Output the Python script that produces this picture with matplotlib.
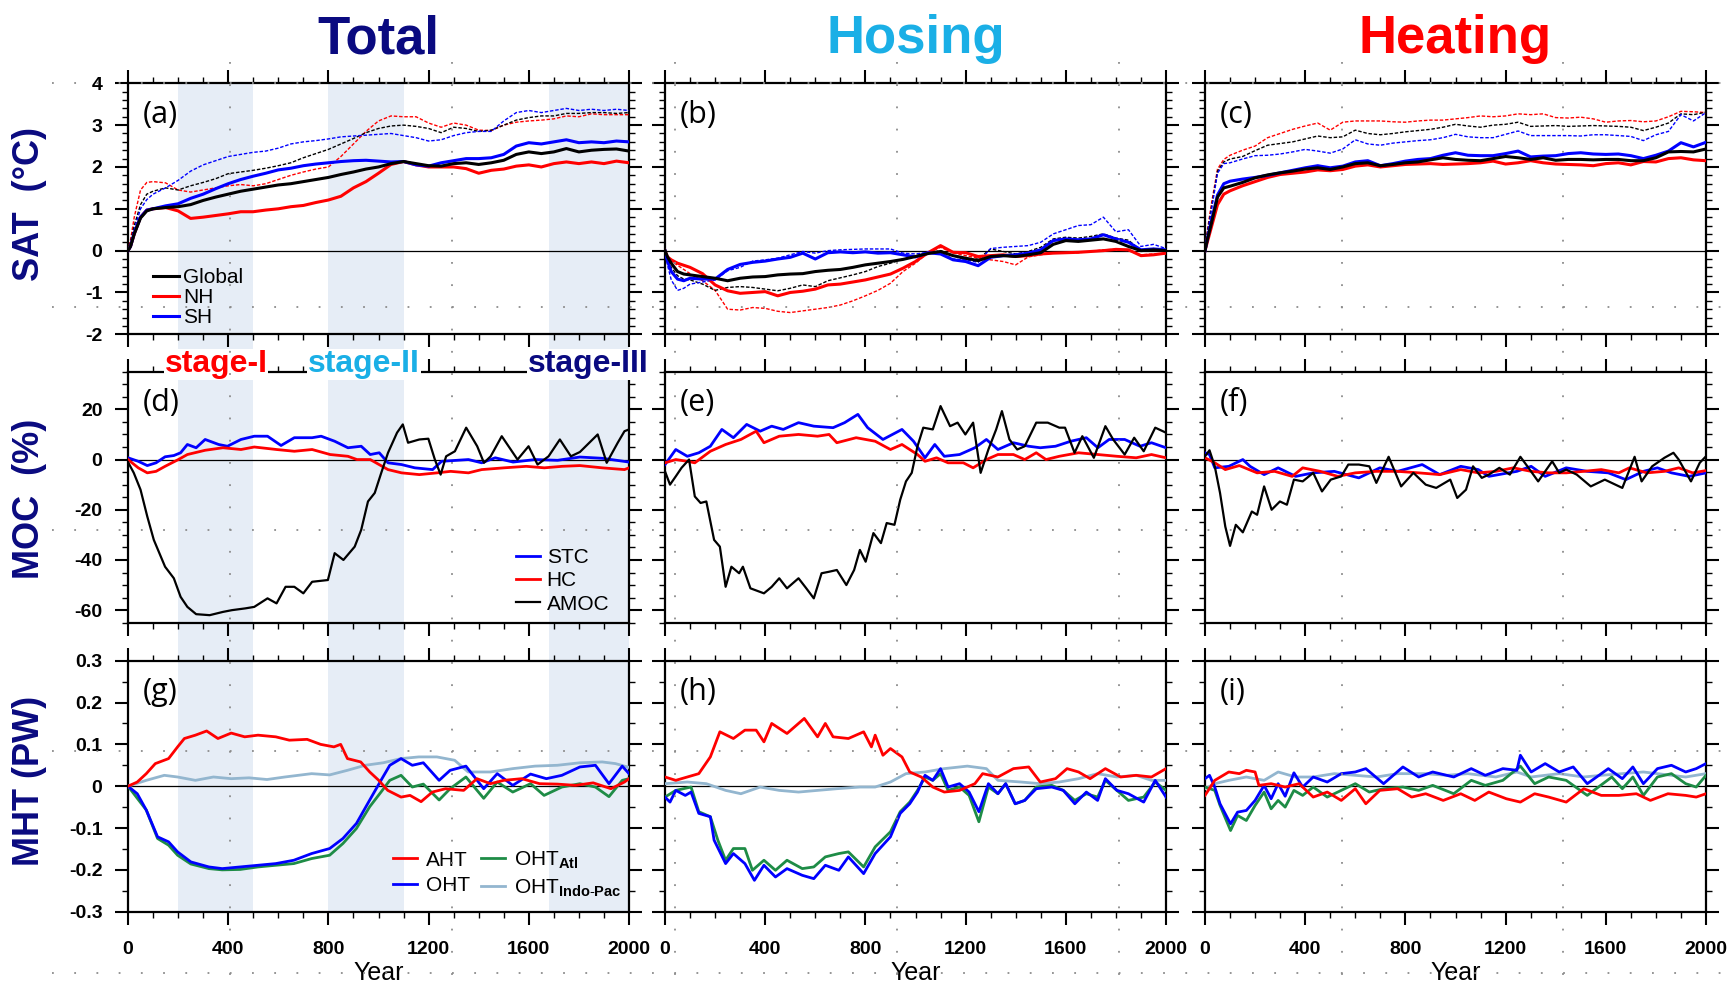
import numpy as np
import matplotlib
matplotlib.use('Agg')
from matplotlib import pyplot as plt
from matplotlib.lines import Line2D
from matplotlib.ticker import MultipleLocator, FuncFormatter

plt.rcParams['font.family'] = ['Liberation Sans', 'DejaVu Sans']
plt.rcParams['mathtext.fontset'] = 'custom'
plt.rcParams['mathtext.rm'] = 'Liberation Sans'
plt.rcParams['mathtext.bf'] = 'Liberation Sans:bold'
plt.rcParams['lines.scale_dashes'] = False

# ---------------- SAT (row 1), common year grid ----------------
YR = [0, 10, 25, 50, 75, 100] + list(range(150, 2001, 50))

a_glb = [0, 0.1, 0.4, 0.78, 0.95, 1.0, 1.03, 1.05, 1.1, 1.2, 1.28, 1.35, 1.42, 1.47, 1.52, 1.57,
         1.6, 1.65, 1.7, 1.75, 1.82, 1.88, 1.95, 2.0, 2.08, 2.13, 2.08, 2.03, 2.02, 2.08, 2.1, 2.06,
         2.1, 2.16, 2.3, 2.36, 2.32, 2.36, 2.44, 2.36, 2.4, 2.42, 2.43, 2.38]
a_nh = [0, 0.1, 0.4, 0.8, 0.97, 1.0, 1.03, 0.95, 0.77, 0.8, 0.84, 0.88, 0.93, 0.93, 0.97, 1.0,
        1.05, 1.08, 1.15, 1.21, 1.3, 1.5, 1.65, 1.85, 2.06, 2.13, 2.05, 2.0, 2.0, 2.0, 1.96, 1.85,
        1.92, 1.95, 2.02, 2.05, 2.0, 2.08, 2.12, 2.08, 2.12, 2.08, 2.14, 2.1]
a_sh = [0, 0.1, 0.42, 0.8, 0.97, 1.0, 1.07, 1.12, 1.25, 1.35, 1.48, 1.6, 1.7, 1.78, 1.85, 1.93,
        1.97, 2.03, 2.07, 2.1, 2.13, 2.15, 2.16, 2.14, 2.12, 2.13, 2.05, 2.02, 2.1, 2.15, 2.2, 2.2,
        2.22, 2.3, 2.5, 2.58, 2.55, 2.6, 2.65, 2.58, 2.6, 2.58, 2.62, 2.6]
a_glb_d = [0, 0.2, 0.6, 1.1, 1.35, 1.42, 1.5, 1.45, 1.55, 1.63, 1.72, 1.84, 1.88, 1.92, 1.97, 2.03,
           2.1, 2.22, 2.32, 2.42, 2.55, 2.68, 2.82, 2.92, 2.98, 3.0, 2.97, 2.92, 2.82, 2.95, 2.92, 2.85,
           2.88, 3.0, 3.12, 3.18, 3.22, 3.22, 3.28, 3.28, 3.3, 3.3, 3.28, 3.3]
a_nh_d = [0, 0.25, 0.8, 1.45, 1.63, 1.65, 1.62, 1.45, 1.4, 1.45, 1.5, 1.55, 1.58, 1.55, 1.6, 1.7,
          1.8, 1.88, 1.95, 2.0, 2.25, 2.55, 2.85, 3.1, 3.22, 3.2, 3.2, 3.05, 2.95, 3.05, 3.0, 2.88,
          2.87, 3.0, 3.07, 3.1, 3.12, 3.15, 3.22, 3.2, 3.27, 3.25, 3.25, 3.25]
a_sh_d = [0, 0.15, 0.5, 1.0, 1.22, 1.35, 1.5, 1.68, 1.9, 2.05, 2.15, 2.25, 2.3, 2.35, 2.38, 2.45,
          2.55, 2.6, 2.63, 2.67, 2.72, 2.74, 2.76, 2.78, 2.8, 2.75, 2.7, 2.62, 2.65, 2.75, 2.82, 2.85,
          2.85, 3.1, 3.3, 3.35, 3.3, 3.35, 3.4, 3.35, 3.38, 3.35, 3.38, 3.35]

b_glb = [0, -0.15, -0.3, -0.5, -0.56, -0.58, -0.62, -0.66, -0.72, -0.66, -0.63, -0.62, -0.58, -0.56,
         -0.55, -0.5, -0.47, -0.45, -0.4, -0.34, -0.3, -0.26, -0.21, -0.14, -0.07, -0.02, -0.12, -0.18,
         -0.24, -0.14, -0.12, -0.14, -0.1, -0.05, 0.15, 0.24, 0.22, 0.25, 0.28, 0.22, 0.1, 0.0, 0.02, 0.0]
b_nh = [0, -0.15, -0.22, -0.3, -0.35, -0.4, -0.55, -0.82, -0.96, -1.02, -1.0, -0.98, -1.08, -1.0,
        -0.97, -0.92, -0.82, -0.8, -0.75, -0.7, -0.63, -0.56, -0.42, -0.26, -0.05, 0.12, -0.04, -0.05,
        -0.14, -0.12, -0.1, -0.14, -0.12, -0.08, -0.06, -0.05, -0.04, -0.02, 0.0, 0.03, 0.02, -0.12,
        -0.1, -0.06]
b_sh = [0, -0.25, -0.5, -0.68, -0.72, -0.66, -0.68, -0.68, -0.45, -0.33, -0.28, -0.25, -0.2, -0.16,
        -0.06, -0.2, -0.05, -0.03, -0.05, -0.03, -0.06, -0.05, -0.1, -0.15, -0.05, -0.08, -0.22, -0.26,
        -0.36, -0.16, -0.12, -0.1, -0.06, 0.02, 0.24, 0.28, 0.26, 0.28, 0.38, 0.28, 0.2, 0.02, 0.04, 0.02]
b_glb_d = [0, -0.2, -0.4, -0.6, -0.68, -0.7, -0.8, -0.95, -0.88, -0.86, -0.88, -0.92, -0.96, -0.9,
           -0.82, -0.86, -0.72, -0.65, -0.58, -0.5, -0.38, -0.3, -0.2, -0.15, -0.06, 0.0, -0.12, -0.22,
           -0.2, 0.04, -0.02, -0.08, -0.02, 0.08, 0.28, 0.32, 0.3, 0.34, 0.4, 0.3, 0.25, 0.0, 0.05, 0.02]
b_nh_d = [0, -0.15, -0.25, -0.35, -0.45, -0.55, -0.72, -0.95, -1.4, -1.42, -1.36, -1.38, -1.45, -1.48,
          -1.44, -1.4, -1.36, -1.3, -1.2, -1.08, -0.95, -0.78, -0.5, -0.3, -0.05, 0.08, -0.05, -0.12,
          -0.18, -0.22, -0.26, -0.34, -0.15, -0.1, -0.06, -0.05, -0.05, -0.02, 0.02, 0.03, 0.0, -0.1,
          -0.08, -0.08]
b_sh_d = [0, -0.35, -0.7, -0.95, -0.9, -0.8, -0.75, -0.7, -0.48, -0.4, -0.25, -0.22, -0.18, -0.1,
          -0.02, -0.06, 0.0, 0.02, 0.03, 0.04, 0.04, 0.04, -0.06, -0.08, -0.04, -0.05, -0.2, -0.22,
          -0.28, 0.05, 0.08, 0.1, 0.12, 0.2, 0.4, 0.5, 0.6, 0.62, 0.8, 0.45, 0.5, 0.1, 0.15, 0.05]

c_glb = [0, 0.28, 0.64, 1.28, 1.5, 1.54, 1.63, 1.74, 1.81, 1.86, 1.9, 1.95, 1.98, 1.94, 2.0, 2.08,
         2.1, 2.03, 2.06, 2.1, 2.12, 2.17, 2.22, 2.18, 2.16, 2.15, 2.2, 2.25, 2.22, 2.18, 2.22, 2.16,
         2.18, 2.18, 2.17, 2.18, 2.18, 2.15, 2.15, 2.22, 2.36, 2.37, 2.36, 2.43]
c_nh = [0, 0.22, 0.55, 1.1, 1.35, 1.43, 1.55, 1.65, 1.75, 1.82, 1.85, 1.88, 1.93, 1.91, 1.94, 2.02,
        2.05, 2.0, 2.03, 2.06, 2.07, 2.08, 2.06, 2.07, 2.08, 2.1, 2.14, 2.07, 2.1, 2.15, 2.1, 2.07,
        2.06, 2.05, 2.03, 2.08, 2.1, 2.05, 2.13, 2.12, 2.2, 2.22, 2.17, 2.15]
c_sh = [0, 0.3, 0.7, 1.33, 1.6, 1.66, 1.71, 1.75, 1.8, 1.86, 1.92, 1.98, 2.03, 1.98, 2.02, 2.12,
        2.15, 2.03, 2.08, 2.14, 2.18, 2.2, 2.28, 2.34, 2.28, 2.27, 2.27, 2.32, 2.38, 2.24, 2.26, 2.27,
        2.32, 2.34, 2.31, 2.3, 2.31, 2.27, 2.2, 2.28, 2.38, 2.58, 2.48, 2.59]
c_glb_d = [0, 0.45, 1.0, 1.9, 2.12, 2.19, 2.25, 2.39, 2.52, 2.56, 2.6, 2.67, 2.74, 2.7, 2.72, 2.88,
           2.8, 2.77, 2.8, 2.84, 2.87, 2.9, 2.95, 3.02, 2.98, 2.95, 3.0, 3.02, 3.07, 2.97, 2.98, 2.99,
           2.97, 2.98, 2.99, 2.98, 2.97, 2.95, 2.87, 2.95, 3.05, 3.27, 3.25, 3.31]
c_nh_d = [0, 0.5, 1.1, 1.95, 2.18, 2.28, 2.4, 2.5, 2.7, 2.8, 2.9, 2.98, 3.05, 2.88, 3.07, 3.1,
          3.1, 3.1, 3.08, 3.07, 3.1, 3.12, 3.12, 3.15, 3.18, 3.22, 3.2, 3.22, 3.27, 3.25, 3.27, 3.18,
          3.17, 3.19, 3.15, 3.07, 3.1, 3.11, 3.08, 3.1, 3.2, 3.33, 3.32, 3.3]
c_sh_d = [0, 0.4, 0.95, 1.85, 2.08, 2.1, 2.19, 2.27, 2.28, 2.31, 2.36, 2.42, 2.38, 2.33, 2.43, 2.65,
          2.55, 2.52, 2.57, 2.6, 2.63, 2.65, 2.7, 2.78, 2.72, 2.7, 2.7, 2.78, 2.86, 2.75, 2.75, 2.75,
          2.75, 2.74, 2.77, 2.77, 2.75, 2.73, 2.63, 2.77, 2.85, 3.25, 3.1, 3.3]

# ---------------- MOC (row 2), % ----------------
d_amoc_yr = [0, 23, 50, 77, 103, 148, 183, 210, 237, 272, 326, 379, 415, 468, 504, 557, 593, 629, 664,
             700, 735, 798, 825, 860, 905, 931, 958, 985, 1011, 1038, 1074, 1097, 1118, 1163, 1199,
             1225, 1248, 1270, 1305, 1350, 1394, 1421, 1448, 1492, 1555, 1599, 1635, 1679, 1724,
             1768, 1804, 1875, 1911, 1955, 1982, 2000]
d_amoc = [-1, -5.3, -12, -22.7, -32, -42.7, -47.3, -54.7, -58.7, -61.6, -62, -60.7, -60, -59.3,
          -58.7, -55.3, -57.3, -50.7, -50.7, -53.3, -48.7, -48, -37.3, -40, -34.7, -28, -16.7,
          -13.3, -5.3, 2.7, 10.7, 14, 6.7, 8, 8.3, 0, -6, 1.3, 3.3, 12.7, 5.3, -1.3, 1.3, 9.3, 0,
          5.3, -2, 1.3, 8, 1.3, 3, 10, -1.3, 6.7, 11.3, 12]
d_stc_yr = [0, 41, 77, 112, 148, 183, 210, 237, 272, 308, 362, 397, 451, 504, 557, 611, 664, 735,
            771, 825, 878, 931, 967, 1003, 1038, 1092, 1145, 1216, 1252, 1359, 1412, 1466, 1537,
            1626, 1715, 1804, 1893, 2000]
d_stc = [0.7, -0.7, -2.4, -1.3, 1.1, 1.6, 2.7, 6, 4.7, 8, 6, 5.3, 8, 9.3, 9.3, 5.6, 8.7, 8.7, 9.3,
         7.3, 4.7, 5.3, 2, 2.7, -1.3, -2, -3.3, -4, -0.7, 0, -1.3, 0.7, -1, 0, -0.3, 1, 0.5, -1]
d_hc_yr = [0, 41, 77, 112, 148, 201, 237, 308, 379, 451, 504, 593, 664, 735, 807, 878, 914, 967,
           1038, 1092, 1163, 1234, 1288, 1359, 1412, 1501, 1590, 1662, 1733, 1804, 1893, 1982, 2000]
d_hc = [0, -3.3, -5.3, -4.7, -2.7, 0, 2, 3.7, 4.7, 4, 5, 4, 3.3, 4, 2, 1.3, 0, 0, -4, -5.3, -6,
        -5.3, -4.7, -5.3, -4, -3.3, -2.7, -3.3, -2.7, -2.4, -3.3, -4, -3.3]

e_amoc_yr = [0, 20, 43, 66, 96, 119, 142, 165, 196, 219, 242, 265, 296, 311, 341, 395, 426, 456,
             487, 533, 564, 594, 625, 655, 686, 724, 755, 778, 801, 832, 862, 885, 916, 939, 962,
             985, 1008, 1031, 1069, 1100, 1138, 1168, 1199, 1230, 1260, 1291, 1322, 1345, 1375,
             1406, 1436, 1482, 1528, 1574, 1597, 1635, 1666, 1712, 1758, 1789, 1835, 1873, 1911,
             1957, 2000]
e_amoc = [-4.7, -10, -6.7, -3.3, 0, -14.7, -17.3, -16.7, -32, -34.7, -50.7, -42.7, -45.3, -42.7,
          -51.3, -53.3, -50.7, -47.3, -51.3, -47.3, -51.3, -55.3, -45.3, -44.7, -44, -50, -44, -36,
          -40.7, -29.3, -33.3, -25.3, -26, -16, -8.7, -5.3, 5.3, 12.7, 12, 21.3, 13.3, 14.7, 10,
          14.7, -5.3, 4, 12, 19.3, 8, 4, 5.3, 14.7, 14.7, 12.7, 12.7, 2.7, 9.3, 0.7, 13.3, 8, 2,
          8.7, 3.3, 12.7, 10.7]
e_stc_yr = [0, 43, 89, 135, 181, 227, 273, 326, 380, 426, 472, 533, 594, 671, 717, 770, 809, 870,
            946, 992, 1038, 1077, 1115, 1176, 1237, 1283, 1329, 1391, 1452, 1498, 1559, 1620, 1682,
            1728, 1773, 1835, 1896, 1942, 2000]
e_stc = [-2, 4, 1.3, 2.7, 5.3, 12, 8.7, 14, 11.3, 13.3, 12, 14.7, 13.3, 12.7, 14.7, 18, 12.7, 8,
         12, 7.3, 0.7, 6, 1.3, 2, 4.7, 8, 4, 6.7, 5.3, 4.7, 5.3, 7.3, 8.7, 4.7, 8, 8, 5.3, 6.7, 4.7]
e_hc_yr = [0, 43, 89, 119, 181, 242, 303, 364, 395, 456, 533, 609, 655, 686, 763, 839, 900, 946,
           1008, 1038, 1084, 1130, 1191, 1230, 1283, 1329, 1391, 1436, 1482, 1521, 1574, 1651,
           1728, 1804, 1881, 1942, 2000]
e_hc = [-1.3, 0, -0.7, -1.3, 3.3, 6, 8, 11.3, 6.7, 9.3, 10, 9.3, 10, 6.7, 8.7, 7.3, 4, 6, 2, -0.7,
        0.7, -1.3, -1.3, -3.3, 0, 2, 2, 0, 2.7, 0, 1.3, 2.7, 2, 1.3, 0.7, 2, 0.7]

f_amoc_yr = [0, 18, 39, 60, 81, 100, 123, 151, 187, 208, 236, 266, 299, 327, 355, 390, 432, 467,
             502, 544, 572, 614, 656, 684, 733, 783, 832, 881, 923, 979, 1007, 1042, 1070, 1105,
             1133, 1175, 1217, 1259, 1287, 1330, 1386, 1414, 1442, 1484, 1540, 1596, 1666, 1715,
             1743, 1785, 1834, 1870, 1891, 1940, 1975, 2000]
f_amoc = [1.3, 3.7, -2.7, -13.3, -26.7, -34.4, -26, -29, -20.7, -22, -10.7, -20, -16.7, -18, -8,
          -8.7, -5.3, -12.7, -8, -6.7, -2, -2, -2.7, -9.3, 1.1, -10.7, -5.3, -10, -11.3, -8, -15.3,
          -12, -2.7, -7.3, -6, -3.3, -6, 1.1, -2.7, -8.7, -0.7, -5.3, -4, -6, -10.7, -8, -11.3,
          1.1, -8.7, -2.7, 0.7, 2.7, 0, -8.7, -1.3, 1.3]
f_stc_yr = [0, 18, 39, 95, 151, 180, 236, 292, 362, 432, 516, 614, 698, 769, 867, 937, 1021, 1091,
            1133, 1245, 1302, 1358, 1442, 1526, 1610, 1680, 1750, 1806, 1862, 1933, 2000]
f_stc = [2.7, 2, -3.3, -2.7, 0, -2.7, -6, -3.3, -6.7, -5.3, -4.7, -7.3, -3.3, -4.7, -2, -6, -2.7,
         -4, -6.7, -4.7, -2.7, -6.7, -3.3, -4.7, -5.3, -8, -4.7, -3.3, -5.3, -6.7, -5.3]
f_hc_yr = [0, 39, 81, 137, 208, 278, 348, 390, 460, 530, 600, 684, 769, 853, 937, 1021, 1091, 1161,
           1231, 1302, 1372, 1442, 1512, 1582, 1652, 1694, 1764, 1834, 1891, 1947, 2000]
f_hc = [0.7, -1.3, -4, -2.4, -5.3, -4.7, -6.7, -3.3, -4.7, -6.7, -5.3, -4.7, -4.7, -5.3, -6, -4,
        -5.3, -4.7, -3.3, -4.7, -5.3, -5.3, -4.7, -4, -5.3, -3.3, -5.3, -4.7, -3.3, -5.3, -4.4]

# ---------------- MHT (row 3), PW ----------------
g_aht_yr = [0, 37, 73, 109, 162, 198, 225, 269, 314, 359, 412, 466, 519, 590, 644, 715, 769, 822,
            849, 876, 929, 965, 1001, 1037, 1090, 1126, 1170, 1215, 1268, 1340, 1393, 1447, 1500,
            1572, 1643, 1714, 1786, 1857, 1928, 1982, 2000]
g_aht = [0, 0.01, 0.03, 0.054, 0.066, 0.094, 0.114, 0.122, 0.132, 0.114, 0.127, 0.118, 0.122,
         0.118, 0.11, 0.112, 0.1, 0.094, 0.1, 0.066, 0.058, 0.034, 0.014, -0.01, -0.026, -0.022,
         -0.037, -0.014, -0.006, -0.01, 0.018, 0.006, 0.014, 0.018, 0.006, 0.005, 0.002, 0.008,
         -0.006, 0.01, 0.018]
g_oht_yr = [0, 37, 73, 118, 162, 198, 251, 323, 376, 448, 519, 590, 662, 733, 805, 858, 912, 965,
            1010, 1045, 1090, 1135, 1179, 1242, 1286, 1349, 1420, 1474, 1536, 1607, 1670, 1732,
            1804, 1866, 1920, 1973, 2000]
g_oht = [0, -0.018, -0.057, -0.121, -0.133, -0.157, -0.181, -0.193, -0.197, -0.193, -0.189, -0.185,
         -0.177, -0.161, -0.149, -0.125, -0.089, -0.033, 0.014, 0.05, 0.066, 0.05, 0.056, 0.014,
         0.038, 0.048, -0.006, 0.03, 0.002, 0.029, 0.018, 0.026, 0.046, 0.05, 0.006, 0.048, 0.03]
g_atl_yr = [0, 73, 118, 162, 198, 251, 323, 376, 448, 519, 590, 662, 733, 805, 858, 912, 965, 1010,
            1045, 1090, 1135, 1179, 1242, 1286, 1349, 1420, 1474, 1536, 1607, 1661, 1732, 1804,
            1866, 1920, 1973, 2000]
g_atl = [0, -0.057, -0.125, -0.141, -0.165, -0.186, -0.197, -0.2, -0.199, -0.193, -0.189, -0.185,
         -0.173, -0.165, -0.137, -0.101, -0.049, -0.014, 0.014, 0.026, -0.002, 0.005, -0.033, -0.006,
         0.022, -0.029, 0.01, -0.014, 0.006, -0.022, -0.002, 0.006, -0.002, -0.025, 0.014, 0.018]
g_ip_yr = [0, 73, 145, 198, 269, 341, 412, 483, 555, 626, 733, 805, 876, 947, 1019, 1090, 1161,
           1233, 1304, 1358, 1447, 1536, 1625, 1714, 1804, 1893, 1946, 2000]
g_ip = [0, 0.014, 0.026, 0.022, 0.014, 0.022, 0.018, 0.02, 0.016, 0.022, 0.03, 0.027, 0.038, 0.05,
        0.056, 0.066, 0.07, 0.07, 0.062, 0.034, 0.034, 0.042, 0.048, 0.05, 0.056, 0.058, 0.054, 0.045]

h_aht_yr = [0, 43, 89, 135, 181, 219, 273, 319, 364, 395, 426, 487, 556, 609, 640, 671, 732, 793,
            824, 839, 870, 900, 946, 977, 1023, 1069, 1115, 1176, 1237, 1268, 1329, 1391, 1452,
            1498, 1559, 1605, 1651, 1697, 1758, 1819, 1881, 1942, 2000]
h_aht = [0.022, 0.014, 0.022, 0.03, 0.07, 0.13, 0.114, 0.134, 0.134, 0.106, 0.15, 0.126, 0.162,
         0.118, 0.15, 0.118, 0.114, 0.13, 0.094, 0.122, 0.074, 0.09, 0.07, 0.034, 0.022, -0.002,
         -0.014, -0.01, 0.006, 0.03, 0.022, 0.042, 0.046, 0.01, 0.018, 0.042, 0.034, 0.018, 0.042,
         0.022, 0.026, 0.022, 0.042]
h_oht_yr = [0, 20, 43, 81, 104, 135, 181, 196, 242, 273, 319, 357, 395, 441, 487, 548, 594, 640,
            694, 732, 793, 839, 900, 939, 977, 1008, 1038, 1069, 1100, 1130, 1176, 1214, 1253,
            1291, 1329, 1360, 1398, 1436, 1482, 1544, 1590, 1636, 1682, 1727, 1758, 1804, 1850,
            1911, 1957, 2000]
h_oht = [-0.026, -0.038, -0.01, -0.022, -0.014, -0.065, -0.073, -0.129, -0.185, -0.161, -0.185,
         -0.225, -0.189, -0.217, -0.197, -0.213, -0.221, -0.189, -0.201, -0.169, -0.209, -0.161,
         -0.121, -0.065, -0.042, -0.014, 0.026, 0.014, 0.042, -0.002, 0.006, -0.014, -0.061, 0.006,
         -0.018, 0.006, -0.042, -0.034, -0.006, -0.002, -0.01, -0.042, -0.014, -0.034, 0.018,
         -0.01, -0.018, -0.038, 0.014, -0.026]
h_atl_yr = [0, 43, 104, 135, 181, 211, 242, 273, 319, 349, 395, 441, 487, 548, 594, 640, 694, 732,
            793, 839, 900, 939, 977, 1008, 1038, 1069, 1100, 1130, 1176, 1214, 1253, 1291, 1329,
            1360, 1398, 1436, 1482, 1544, 1590, 1636, 1682, 1727, 1758, 1804, 1850, 1911, 1957, 2000]
h_atl = [-0.026, -0.01, -0.002, -0.061, -0.073, -0.129, -0.177, -0.149, -0.149, -0.201, -0.177,
         -0.201, -0.177, -0.197, -0.193, -0.169, -0.161, -0.157, -0.193, -0.145, -0.109, -0.061,
         -0.038, -0.01, 0.022, 0.014, 0.03, -0.01, -0.002, -0.022, -0.085, -0.002, -0.018, 0.006,
         -0.042, -0.034, -0.002, 0.002, -0.01, -0.034, -0.018, -0.026, 0.014, -0.01, -0.034,
         -0.026, 0.01, -0.01]
h_ip_yr = [0, 89, 165, 242, 303, 380, 456, 533, 609, 686, 778, 839, 900, 962, 1038, 1115, 1207,
           1283, 1329, 1421, 1498, 1574, 1651, 1727, 1804, 1881, 1942, 2000]
h_ip = [0.006, 0.01, 0.006, -0.01, -0.018, -0.002, -0.01, -0.014, -0.01, -0.006, -0.002, -0.002,
        0.01, 0.03, 0.034, 0.042, 0.048, 0.042, 0.014, 0.01, 0.006, 0.01, 0.018, 0.03, 0.022, 0.026,
        0.014, 0.014]

i_aht_yr = [0, 39, 95, 137, 165, 200, 215, 264, 320, 376, 432, 488, 544, 600, 642, 698, 769, 825,
            881, 951, 1021, 1077, 1133, 1203, 1259, 1316, 1372, 1442, 1512, 1582, 1652, 1722, 1778,
            1848, 1919, 1961, 2000]
i_aht = [-0.022, 0.014, 0.034, 0.03, 0.038, 0.034, 0.002, 0.006, -0.002, 0.006, -0.026, -0.014,
         -0.034, -0.006, -0.042, -0.01, -0.006, -0.026, -0.018, -0.034, -0.018, -0.034, -0.014,
         -0.03, -0.038, -0.018, -0.026, -0.038, -0.006, -0.022, -0.022, -0.018, -0.034, -0.018,
         -0.022, -0.026, -0.018]
i_oht_yr = [0, 18, 39, 60, 102, 130, 165, 200, 236, 264, 292, 320, 355, 390, 432, 488, 544, 600,
            642, 713, 790, 853, 909, 993, 1063, 1119, 1189, 1245, 1259, 1302, 1358, 1414, 1470,
            1526, 1610, 1666, 1708, 1750, 1806, 1862, 1919, 1961, 2000]
i_oht = [0.018, 0.026, -0.002, -0.042, -0.09, -0.062, -0.058, -0.034, 0.002, -0.03, 0.006, -0.024,
         0.032, -0.002, 0.022, 0.01, 0.03, 0.034, 0.042, 0.006, 0.046, 0.022, 0.034, 0.022, 0.042,
         0.026, 0.042, 0.038, 0.074, 0.034, 0.054, 0.034, 0.046, 0.006, 0.042, 0.018, 0.046, 0.006,
         0.042, 0.05, 0.034, 0.042, 0.054]
i_atl_yr = [0, 39, 60, 102, 130, 165, 200, 236, 264, 292, 320, 355, 390, 432, 488, 544, 600, 656,
            713, 790, 853, 909, 993, 1063, 1119, 1189, 1259, 1316, 1372, 1442, 1526, 1624, 1666,
            1708, 1750, 1806, 1862, 1919, 1961, 2000]
i_atl = [-0.002, -0.01, -0.046, -0.106, -0.07, -0.082, -0.046, -0.014, -0.054, -0.034, -0.05,
         -0.01, -0.022, -0.002, -0.026, -0.01, 0.006, -0.014, -0.006, -0.002, -0.01, 0.002, -0.018,
         0.014, 0.002, 0.014, 0.048, 0.006, 0.022, 0.014, -0.022, 0.022, -0.006, 0.022, -0.022,
         0.022, 0.03, 0.006, -0.002, 0.026]
i_ip_yr = [0, 39, 95, 165, 236, 292, 362, 432, 516, 600, 684, 769, 881, 965, 1049, 1161, 1245,
           1302, 1414, 1512, 1582, 1666, 1750, 1862, 1919, 2000]
i_ip = [-0.006, 0.006, 0.014, 0.022, 0.014, 0.034, 0.022, 0.022, 0.03, 0.026, 0.022, 0.03, 0.03,
        0.026, 0.03, 0.022, 0.034, 0.022, 0.03, 0.022, 0.026, 0.03, 0.034, 0.026, 0.022, 0.03]

stages = [(200, 500), (800, 1100), (1680, 2000)]

NAVY = '#0A0A80'
SKY = '#1AAFE6'
RED = '#FF0000'
BLUE = '#0000FF'
GREEN = '#1E8C46'
LBLUE = '#93B6CF'
SHADE = '#E6EDF6'

W, H = 1730, 986
fig = plt.figure(figsize=(W / 100, H / 100), dpi=100)
col_left = [128, 665, 1205]
row_top = [83.3, 371.7, 660.7]
AW, AH = 501, 251
axs = [[fig.add_axes([l / W, 1 - (t + AH) / H, AW / W, AH / H]) for l in col_left] for t in row_top]


def fmt_int(v, p):
    return '0' if abs(v) < 1e-9 else f'{v:.0f}'


def fmt_one(v, p):
    return '0' if abs(v) < 1e-9 else f'{v:.1f}'


row_cfg = [((-2, 4), 1, 0.2, fmt_int), ((-65, 35), 20, 5, fmt_int), ((-0.3, 0.3), 0.1, 0.05, fmt_one)]
letters = 'abcdefghi'
for r in range(3):
    ylim, maj, mnr, fmt = row_cfg[r]
    for c in range(3):
        ax = axs[r][c]
        ax.set_xlim(0, 2000)
        ax.set_ylim(*ylim)
        ax.xaxis.set_major_locator(MultipleLocator(400))
        ax.xaxis.set_minor_locator(MultipleLocator(100))
        ax.yaxis.set_major_locator(MultipleLocator(maj))
        ax.yaxis.set_minor_locator(MultipleLocator(mnr))
        ax.yaxis.set_major_formatter(FuncFormatter(fmt))
        ax.tick_params(which='both', direction='out', top=True, right=True,
                       labelleft=(c == 0), labelbottom=(r == 2), labelsize=14)
        ax.tick_params(which='major', length=9.4, width=1.5)
        ax.tick_params(which='minor', length=4.5, width=1.0)
        ax.tick_params(axis='y', pad=9)
        ax.tick_params(axis='x', pad=12)
        for s in ax.spines.values():
            s.set_linewidth(1.6)
        for lbl in ax.get_xticklabels() + ax.get_yticklabels():
            lbl.set_fontweight('bold')
        ax.axhline(0, color='k', lw=0.9, zorder=2)
        ax.text(0.03, 0.935, '(' + letters[r * 3 + c] + ')', transform=ax.transAxes,
                fontsize=22, family=['Open Sans', 'DejaVu Sans'], va='top', ha='left')
        if r == 2:
            ax.set_xlabel('Year', fontsize=18, labelpad=2)

# stage shading in the Total column, continuous from row 1 to row 3
gap12 = (row_top[1] - (row_top[0] + AH)) / AH
gap23 = (row_top[2] - (row_top[1] + AH)) / AH
for r, ymin in zip(range(3), [-gap12, -gap23, 0]):
    for x0, x1 in stages:
        axs[r][0].axvspan(x0, x1, ymin=ymin, ymax=1, color=SHADE, lw=0, zorder=0.5, clip_on=False)

# row 1: SAT
dash = (0, (2.5, 1.3))
for ax, glb, nh, sh, glb_d, nh_d, sh_d in [
        (axs[0][0], a_glb, a_nh, a_sh, a_glb_d, a_nh_d, a_sh_d),
        (axs[0][1], b_glb, b_nh, b_sh, b_glb_d, b_nh_d, b_sh_d),
        (axs[0][2], c_glb, c_nh, c_sh, c_glb_d, c_nh_d, c_sh_d)]:
    ax.plot(YR, nh_d, color=RED, lw=1.0, ls=dash, zorder=3)
    ax.plot(YR, glb_d, color='k', lw=1.0, ls=dash, zorder=3)
    ax.plot(YR, sh_d, color=BLUE, lw=1.0, ls=dash, zorder=3)
    l_nh, = ax.plot(YR, nh, color=RED, lw=2.2, zorder=4)
    l_sh, = ax.plot(YR, sh, color=BLUE, lw=2.2, zorder=4)
    l_glb, = ax.plot(YR, glb, color='k', lw=2.2, zorder=4)
    if ax is axs[0][0]:
        ax.legend([l_glb, l_nh, l_sh], ['Global', 'NH', 'SH'], loc='upper left',
                  bbox_to_anchor=(0.05, 0.263), frameon=False, fontsize=15, handlelength=1.25,
                  handletextpad=0.2, labelspacing=0.04, borderpad=0, borderaxespad=0)

# row 2: MOC
for ax, series in [
        (axs[1][0], (d_stc_yr, d_stc, d_hc_yr, d_hc, d_amoc_yr, d_amoc)),
        (axs[1][1], (e_stc_yr, e_stc, e_hc_yr, e_hc, e_amoc_yr, e_amoc)),
        (axs[1][2], (f_stc_yr, f_stc, f_hc_yr, f_hc, f_amoc_yr, f_amoc))]:
    sy, sv, hy, hv, ay, av = series
    l_s, = ax.plot(sy, sv, color=BLUE, lw=2.0, zorder=3)
    l_h, = ax.plot(hy, hv, color=RED, lw=2.0, zorder=3)
    l_a, = ax.plot(ay, av, color='k', lw=1.6, zorder=4)
    if ax is axs[1][0]:
        ax.legend([l_s, l_h, l_a], ['STC', 'HC', 'AMOC'], loc='upper left',
                  bbox_to_anchor=(0.774, 0.298), frameon=False, fontsize=15, handlelength=1.15,
                  handletextpad=0.33, labelspacing=0.21, borderpad=0, borderaxespad=0)

# row 3: MHT
for ax, series in [
        (axs[2][0], (g_aht_yr, g_aht, g_oht_yr, g_oht, g_atl_yr, g_atl, g_ip_yr, g_ip)),
        (axs[2][1], (h_aht_yr, h_aht, h_oht_yr, h_oht, h_atl_yr, h_atl, h_ip_yr, h_ip)),
        (axs[2][2], (i_aht_yr, i_aht, i_oht_yr, i_oht, i_atl_yr, i_atl, i_ip_yr, i_ip))]:
    ay, av, oy, ov, ty, tv, py, pv = series
    l_p, = ax.plot(py, pv, color=LBLUE, lw=2.0, zorder=3)
    l_t, = ax.plot(ty, tv, color=GREEN, lw=2.0, zorder=3)
    l_o, = ax.plot(oy, ov, color=BLUE, lw=2.0, zorder=4)
    l_a, = ax.plot(ay, av, color=RED, lw=2.0, zorder=4)
    if ax is axs[2][0]:
        ax.legend([l_a, l_o, l_t, l_p],
                  ['AHT', 'OHT', r'OHT$_{\mathbf{Atl}}$', r'OHT$_{\mathbf{Indo\text{-}Pac}}$'],
                  ncol=2, loc='upper left', bbox_to_anchor=(0.529, 0.2475), frameon=False,
                  fontsize=15, handlelength=1.15, handletextpad=0.45, labelspacing=0.31,
                  columnspacing=0.5, borderpad=0, borderaxespad=0)

# column titles
for c, (txt, col) in enumerate([('Total', NAVY), ('Hosing', SKY), ('Heating', RED)]):
    xc = (col_left[c] + AW / 2) / W
    fig.text(xc, 1 - 53 / H, txt, color=col, fontsize=38, fontweight='bold',
             ha='center', va='baseline')

# row titles
for yc, txt in [(204, 'SAT  (°C)'), (499, 'MOC  (%)'), (781, 'MHT (PW)')]:
    fig.text(30 / W, 1 - yc / H, txt, color=NAVY, fontsize=26, fontweight='bold',
             rotation=90, ha='center', va='center')

# stage labels sitting on top of row 2
for xc, txt, col in [(216, 'stage-I', RED), (364, 'stage-II', SKY), (588, 'stage-III', NAVY)]:
    fig.text(xc / W, 1 - 372.5 / H, txt, color=col, fontsize=23, fontweight='bold',
             ha='center', va='baseline', zorder=5,
             bbox=dict(facecolor='white', edgecolor='none', pad=0.5))

# faint dotted background grid of the screenshot
for gx in [230, 452, 675, 897, 1119, 1342, 1563]:
    fig.add_artist(Line2D([gx / W, gx / W], [1 - 62 / H, 1 - 980 / H], transform=fig.transFigure,
                          color='#8c8c8c', lw=1.3, ls=(0, (1.3, 14.7)), zorder=6))
for gy in [83, 307, 530, 751, 973]:
    fig.add_artist(Line2D([52 / W, 1.0], [1 - gy / H, 1 - gy / H], transform=fig.transFigure,
                          color='#8c8c8c', lw=1.3, ls=(0, (1.3, 14.7)), zorder=6))

fig.savefig('out.png', dpi=100, facecolor='white')
